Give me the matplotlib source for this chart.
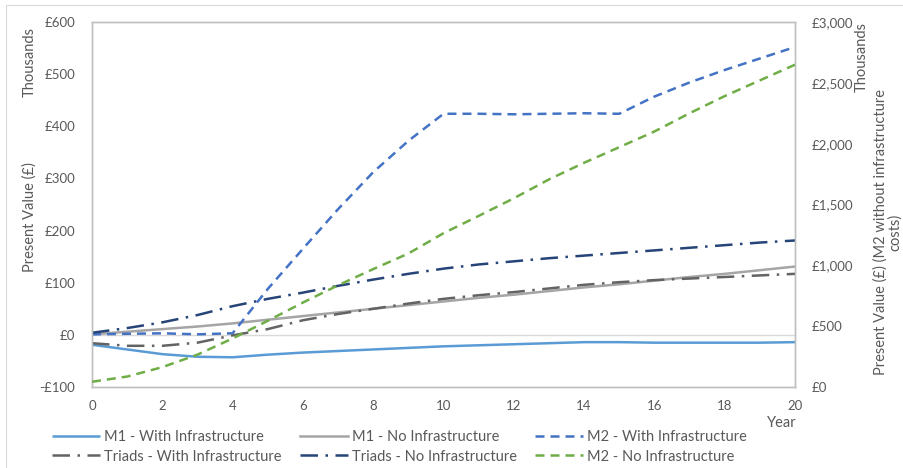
import matplotlib
matplotlib.use("Agg")
import matplotlib.pyplot as plt
from matplotlib.ticker import FuncFormatter
from matplotlib.patches import Rectangle

plt.rcParams['font.family'] = ['Lato', 'DejaVu Sans']

years = list(range(0, 21))

m1_with = [-19, -28, -37, -42, -43, -38, -34, -31, -28, -25, -22, -20, -18, -16, -14, -14, -15, -15, -15, -15, -14]
m1_no = [1, 6, 11, 16, 22, 29, 36, 43, 50, 57, 64, 71, 77, 84, 91, 97, 104, 111, 117, 124, 131]
m2_with = [1, 2, 3, 1, 3, 88, 165, 241, 312, 372, 424, 424, 423, 424, 425, 424, 457, 484, 508, 530, 552]
triads_with = [-16, -21, -21, -15, -1, 11, 28, 40, 50, 60, 69, 76, 82, 89, 96, 101, 105, 108, 111, 114, 117]
triads_no = [4, 13, 24, 38, 55, 69, 81, 94, 106, 117, 127, 135, 141, 147, 152, 157, 162, 167, 172, 177, 181]
# M2 - No Infrastructure plotted on the secondary axis (thousands of £)
m2_no = [43, 86, 163, 266, 399, 544, 694, 836, 969, 1097, 1264, 1406, 1551, 1706, 1843, 1971, 2100, 2250, 2391, 2520, 2649]

left_ticks = [-100, 0, 100, 200, 300, 400, 500, 600]
right_ticks = [0, 500, 1000, 1500, 2000, 2500, 3000]
x_ticks = list(range(0, 21, 2))

fig = plt.figure(figsize=(9.04, 4.68), dpi=100)
fig.patches.append(Rectangle((6/904, -0.1), 1.1, 1 - 5/468 + 0.1, transform=fig.transFigure,
                             fill=False, edgecolor='#D9D9D9', lw=0.8))
ax = fig.add_axes([92/904, 1 - 387/468, (795 - 92)/904, (387 - 22)/468])
ax2 = ax.twinx()

lw = 1.8
tc = '#595959'
l_m1w, = ax.plot(years, m1_with, color='#5B9BD5', lw=lw, solid_capstyle='butt', zorder=3)
l_m1n, = ax.plot(years, m1_no, color='#A5A5A5', lw=lw, zorder=3)
l_m2w, = ax.plot(years, m2_with, color='#4472C4', lw=lw, dashes=(3.6, 2.4), zorder=3)
l_tw, = ax.plot(years, triads_with, color='#636363', lw=lw, dashes=(7, 3, 1, 3), zorder=3)
l_tn, = ax.plot(years, triads_no, color='#264478', lw=lw, dashes=(7, 3, 1, 3), zorder=3)
l_m2n, = ax2.plot(years, m2_no, color='#70AD47', lw=lw, dashes=(3.6, 2.4), zorder=3)

ax.axhline(0, color='#D9D9D9', lw=1.0, zorder=1)

def money(v, pos=None):
    v = int(round(v))
    if v < 0:
        return '-£{:,}'.format(-v)
    return '£{:,}'.format(v)

ax.set_xlim(0, 20)
ax.set_ylim(-100, 600)
ax2.set_ylim(0, 3000)
ax.set_xticks(x_ticks)
ax.set_yticks(left_ticks)
ax2.set_yticks(right_ticks)
ax.yaxis.set_major_formatter(FuncFormatter(money))
ax2.yaxis.set_major_formatter(FuncFormatter(money))

for a in (ax, ax2):
    for s in a.spines.values():
        s.set_color('#BFBFBF')
        s.set_linewidth(1.0)
    a.tick_params(length=0, labelsize=9.5, labelcolor=tc)
ax.tick_params(axis='x', pad=9)
ax.tick_params(axis='y', pad=12)
ax2.tick_params(axis='y', pad=12)

fig.text(30/904, 1 - 217/468, 'Present Value (£)', rotation=90, ha='center', va='center',
         fontsize=10.5, color=tc)
fig.text(30/904, 1 - 62/468, 'Thousands', rotation=90, ha='center', va='center',
         fontsize=10.5, color=tc)
fig.text(862/904, 1 - 57/468, 'Thousands', rotation=90, ha='center', va='center',
         fontsize=10.5, color=tc)
fig.text(888/904, 1 - 232/468, 'Present Value (£) (M2 without infrastructure\ncosts)',
         rotation=90, ha='center', va='center', fontsize=10.5, color=tc, linespacing=1.0,
         multialignment='center')
fig.text(782/904, 1 - 423/468, 'Year', ha='center', va='center', fontsize=10.5, color=tc)

handles = [l_m1w, l_tw, l_m1n, l_tn, l_m2w, l_m2n]
labels = ['M1 - With Infrastructure', 'Triads - With Infrastructure',
          'M1 - No Infrastructure', 'Triads - No Infrastructure',
          'M2 - With Infrastructure', 'M2 - No Infrastructure']
leg = fig.legend(handles, labels, ncol=3, loc='upper left', bbox_to_anchor=(52/904, 1 - 430/468),
                 frameon=False, fontsize=10.5, handlelength=3.3, handletextpad=0.3,
                 columnspacing=1.2, labelspacing=0.38, borderaxespad=0, borderpad=0)
for t in leg.get_texts():
    t.set_color(tc)

fig.savefig('out.png', dpi=100)
